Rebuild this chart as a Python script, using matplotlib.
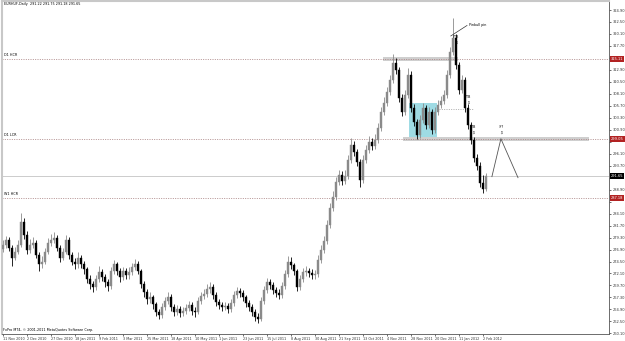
import matplotlib
matplotlib.use("Agg")
import matplotlib.pyplot as plt
import numpy as np

# EURHUF daily closes (one bar per ~2 sessions)
closes = [
    277.9, 278.9, 277.3, 275.3, 276.5, 277.9, 282.5, 279.9, 276.9, 277.9,
    278.3, 275.9, 273.9, 274.5, 276.5, 278.3, 278.9, 279.3, 277.3, 275.3,
    276.5, 278.9, 275.9, 274.5, 273.9, 275.3, 273.9, 272.9, 270.9, 269.9,
    269.3, 270.9, 272.3, 271.3, 270.3, 269.5, 272.5, 273.9, 272.5, 271.3,
    272.5, 271.7, 272.3, 273.3, 273.9, 272.5, 269.9, 268.3, 266.9, 267.3,
    265.9, 264.3, 263.7, 265.3, 266.5, 267.3, 265.3, 264.3, 264.9, 264.1,
    264.5, 265.1, 265.7, 264.5, 264.3, 266.5, 267.5, 267.9, 268.9, 269.3,
    267.7, 266.3, 265.7, 265.3, 265.5, 264.9, 266.1, 267.7, 268.5, 268.1,
    267.3, 266.1, 265.3, 264.3, 263.3, 262.9, 266.5, 268.7, 270.3, 269.7,
    268.7, 268.1, 267.7, 269.5, 271.9, 274.5, 273.8, 272.5, 269.3, 270.9,
    272.3, 272.5, 272.1, 271.7, 271.9, 274.9, 276.9, 278.7, 281.9, 285.3,
    287.5, 290.5, 291.9, 290.7, 291.7, 294.9, 297.9, 296.5, 294.5, 290.9,
    294.9, 296.9, 298.5, 297.7, 298.9, 301.3, 304.5, 306.3, 308.5, 310.9,
    314.3, 312.9, 307.3, 304.5, 307.9, 311.9, 305.3, 302.5, 299.9, 302.9,
    305.3, 301.9, 304.5, 300.9, 304.5, 305.9, 306.7, 307.9, 311.9, 316.5,
    319.3, 313.9, 308.9, 310.9, 305.3, 301.9, 298.9, 295.3, 293.7, 290.3,
    289.1, 291.65,
]
highs = [
    278.8, 279.6, 279.4, 277.8, 277.4, 278.9, 284.3, 283.2, 280.6, 279.0,
    279.5, 278.9, 276.4, 275.6, 277.3, 279.2, 280.1, 280.4, 279.9, 277.9,
    277.3, 279.8, 279.4, 276.5, 275.3, 276.4, 275.9, 274.6, 273.4, 271.7,
    270.6, 271.8, 273.5, 272.9, 271.9, 271.0, 273.4, 274.8, 274.5, 273.1,
    273.3, 273.2, 273.4, 274.1, 275.0, 274.6, 273.0, 270.5, 268.9, 268.4,
    267.8, 266.4, 265.0, 266.1, 267.4, 268.3, 267.9, 265.9, 265.8, 265.5,
    265.4, 266.0, 266.6, 266.3, 265.3, 267.3, 268.4, 268.9, 269.9, 270.3,
    269.9, 268.3, 267.0, 266.4, 266.3, 266.1, 266.9, 268.6, 269.4, 269.2,
    268.7, 267.8, 266.7, 265.9, 264.9, 264.1, 267.3, 269.5, 271.2, 271.0,
    270.3, 269.4, 268.9, 270.4, 272.8, 275.7, 275.4, 274.3, 273.0, 271.8,
    273.2, 273.5, 273.2, 272.9, 272.8, 275.8, 277.8, 279.6, 282.8, 286.3,
    288.6, 291.4, 292.9, 292.6, 292.8, 295.8, 299.2, 298.6, 297.1, 295.0,
    295.8, 297.8, 299.6, 299.2, 300.0, 302.3, 305.4, 307.4, 309.5, 311.9,
    316.0, 315.3, 313.5, 308.0, 308.9, 313.2, 312.6, 306.0, 303.1, 303.8,
    306.3, 305.9, 305.5, 305.1, 305.4, 306.8, 307.6, 308.9, 312.8, 317.4,
    323.3, 320.0, 314.5, 311.9, 311.5, 306.0, 302.5, 299.5, 296.0, 294.4,
    291.8, 292.3,
]
lows = [
    276.4, 277.3, 276.6, 273.6, 274.8, 276.0, 277.4, 279.1, 276.1, 276.3,
    277.2, 275.2, 272.6, 273.2, 273.9, 276.0, 277.6, 278.2, 276.6, 274.5,
    274.8, 276.0, 275.1, 273.7, 272.9, 273.2, 273.1, 272.0, 270.1, 268.9,
    268.3, 268.7, 270.4, 270.5, 269.4, 268.6, 269.0, 271.9, 271.8, 270.4,
    270.8, 270.9, 271.0, 271.8, 272.7, 271.9, 269.1, 267.4, 266.0, 266.2,
    265.0, 263.5, 262.9, 263.1, 264.8, 265.9, 264.6, 263.6, 263.7, 263.4,
    263.5, 263.9, 264.5, 263.8, 263.4, 263.9, 266.0, 266.9, 267.3, 268.2,
    267.0, 265.6, 264.9, 264.5, 264.7, 264.1, 264.3, 265.6, 267.1, 267.4,
    266.6, 265.4, 264.5, 263.5, 262.6, 262.2, 262.5, 266.0, 268.2, 268.9,
    267.9, 267.3, 266.9, 267.2, 269.0, 271.4, 273.0, 271.7, 268.5, 268.8,
    270.3, 271.6, 271.3, 270.9, 270.9, 271.3, 274.3, 276.3, 278.1, 281.3,
    284.7, 286.9, 289.8, 289.9, 290.0, 291.1, 294.3, 295.7, 293.6, 289.5,
    290.3, 294.2, 296.2, 296.9, 297.0, 298.3, 300.7, 303.8, 305.7, 307.9,
    310.3, 312.1, 306.5, 303.6, 303.9, 307.3, 304.5, 301.7, 299.0, 299.3,
    302.3, 301.1, 301.3, 300.1, 300.3, 303.9, 305.2, 306.1, 307.3, 311.3,
    315.9, 313.1, 308.1, 308.3, 304.5, 301.1, 298.1, 294.5, 292.8, 289.4,
    288.2, 288.6,
]
first_open = 277.0

date_labels = ["11 Nov 2010", "2 Dec 2010", "27 Dec 2010", "18 Jan 2011", "9 Feb 2011",
               "3 Mar 2011", "25 Mar 2011", "18 Apr 2011", "10 May 2011", "1 Jun 2011",
               "23 Jun 2011", "15 Jul 2011", "8 Aug 2011", "30 Aug 2011", "21 Sep 2011",
               "13 Oct 2011", "4 Nov 2011", "28 Nov 2011", "20 Dec 2011", "11 Jan 2012",
               "2 Feb 2012"]
price_ticks = [260.10, 262.50, 264.90, 267.30, 269.70, 272.10, 274.50, 276.90,
               279.30, 281.70, 284.10, 286.50, 288.90, 291.30, 293.70, 296.10,
               298.50, 300.90, 303.30, 305.70, 308.10, 310.50, 312.90, 315.30,
               317.70, 320.10, 322.50, 324.90]

# levels drawn on the chart
d1_hcr = 315.11
d1_lcr = 299.05
w1_hcr = 287.18
last_price = 291.65
mid_level = 305.1

# drawn objects (bar index, price)
box_x = [135.3, 144.7]
box_y = [298.9, 306.3]
hcr_zone_x = [126.7, 151.7]
lcr_zone_x = [133.3, 195.3]
mid_line_x = [145.3, 156.7]
proj_x = [163, 166, 171.7]
proj_y = [291.5, 299.1, 291.3]
ftb_marks = [(151, 319.5), (155, 307.5), (156.7, 301.5)]
qq_mark = (166, 301.5)
pin_line_x = [149.3, 154.7]
pin_line_y = [319.7, 321.8]

FS = 2.4
DOT = (0, (1.2, 1.6))
LEVEL_COL = "#a88080"

fig = plt.figure(figsize=(6.25, 3.41), dpi=100)
ax = fig.add_axes([0.0032, 0.0205, 0.9712, 0.9765])

x = np.arange(len(closes))
opens = np.array([first_open] + closes[:-1])
c = np.array(closes)
up = c >= opens
cols = np.where(up, "#8a8a8a", "#000000")

# zones and box behind the candles
ax.fill_between(box_x, box_y[0], box_y[1], color="#9fdbe4", zorder=1, lw=0)
ax.fill_between(hcr_zone_x, d1_hcr - 0.35, d1_hcr + 0.35, color="#cfcfcf", zorder=1, lw=0)
ax.fill_between(lcr_zone_x, d1_lcr - 0.35, d1_lcr + 0.35, color="#cfcfcf", zorder=1, lw=0)

# horizontal levels
for lvl in [d1_hcr, d1_lcr, w1_hcr]:
    ax.axhline(lvl, color=LEVEL_COL, lw=0.6, ls=DOT, zorder=2)
ax.axhline(last_price, color="#c4c4c4", lw=0.6, zorder=2)
ax.plot(mid_line_x, [mid_level, mid_level], color="#a0a0a0", lw=0.6, ls=DOT, zorder=2)

# candles
ax.vlines(x, lows, highs, colors=cols, lw=0.6, zorder=3)
ax.bar(x, np.abs(c - opens), bottom=np.minimum(c, opens), width=0.6,
       color=cols, edgecolor=cols, lw=0.3, zorder=4)

# projection and annotations
ax.plot(proj_x, proj_y, color="#555555", lw=0.6, zorder=5)
for bx, by in ftb_marks:
    ax.text(bx, by, "FTB", fontsize=FS, ha="center", va="center", zorder=6)
    ax.text(bx, by - 1.2, "\u21e9", fontsize=FS + 0.8, ha="center", va="center", zorder=6)
ax.text(qq_mark[0], qq_mark[1], "???", fontsize=FS, ha="center", va="center", zorder=6)
ax.text(qq_mark[0], qq_mark[1] - 1.2, "\u21e9", fontsize=FS + 0.8, ha="center", va="center", zorder=6)
ax.plot(pin_line_x, pin_line_y, color="#333333", lw=0.5, zorder=6)
ax.text(pin_line_x[1] + 0.6, pin_line_y[1], "Pinbull pin", fontsize=FS, ha="left", va="center")

# level names
ax.text(0.2, d1_hcr + 0.4, "D1 HCR", fontsize=FS, va="bottom")
ax.text(0.2, d1_lcr + 0.4, "D1 LCR", fontsize=FS, va="bottom")
ax.text(0.2, w1_hcr + 0.4, "W1 HCR", fontsize=FS, va="bottom")

ax.text(0.004, 0.997, "EURHUF,Daily  291.22 291.75 291.18 291.65", transform=ax.transAxes,
        fontsize=FS, va="top", ha="left")
ax.text(0.002, 0.006, "FxPro MT4, \u00a9 2001-2011 MetaQuotes Software Corp.",
        transform=ax.transAxes, fontsize=FS, va="bottom", ha="left")

# axes
tags = [(d1_hcr, "#b22222"), (d1_lcr, "#b22222"), (w1_hcr, "#b22222"), (last_price, "#000000")]
ax.set_xlim(-0.3, -0.3 + 607 / 3)
ax.set_ylim(259.97, 326.7)
ax.set_xticks(np.arange(len(date_labels)) * 8)
ax.set_xticklabels(date_labels, fontsize=FS, ha="left")
ax.yaxis.tick_right()
ax.set_yticks(price_ticks)
# price tags hide the scale labels right under them, as in the terminal
ylabels = [f"{v:.2f}" if min(abs(v - t) for t, _ in tags) > 0.9 else "" for v in price_ticks]
ax.set_yticklabels(ylabels, fontsize=FS + 0.2)
ax.tick_params(axis="both", length=1.5, width=0.5, pad=1, colors="#333333")
for side in ["top", "left"]:
    ax.spines[side].set_color("#c8c8c8")
    ax.spines[side].set_linewidth(1.5)
for side in ["right", "bottom"]:
    ax.spines[side].set_color("#555555")
    ax.spines[side].set_linewidth(0.6)

# price tags on the right scale
yt = ax.get_yaxis_transform()
for val, col in tags:
    ax.text(1.003, val, f"{val:.2f}", transform=yt, fontsize=FS + 0.2, color="white",
            va="center", ha="left", zorder=10, clip_on=False,
            bbox=dict(boxstyle="square,pad=0.25", fc=col, ec="none"))

fig.savefig("out.png", dpi=100)
